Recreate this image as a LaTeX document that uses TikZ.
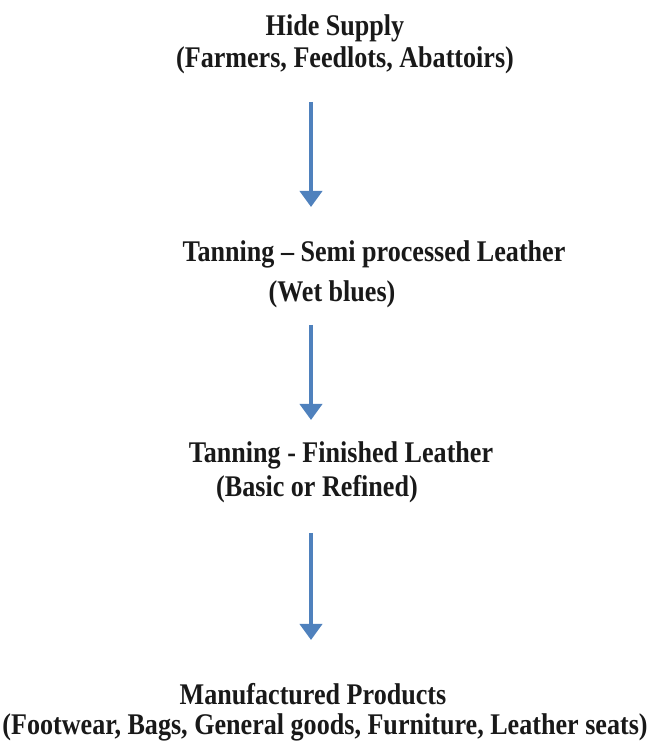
\documentclass[tikz,border=0pt]{standalone}
\usepackage{fontspec}
\setmainfont[FakeStretch=0.87]{Liberation Serif}
\usetikzlibrary{arrows.meta}
\definecolor{arrowblue}{RGB}{79,129,189}
\begin{document}
\begin{tikzpicture}[x=1pt,y=1pt,
  lbl/.style={anchor=base,inner sep=0pt,font=\fontsize{30}{32}\selectfont\bfseries,text=black!90},
  flow/.style={draw=arrowblue,line width=3.8pt,-{Triangle[width=22pt,length=16pt]}}]
\useasboundingbox (0,0) rectangle (651,742);
\node[lbl] (t1) at (335,706) {Hide Supply};
\node[lbl] (t1b) at (345,674) {(Farmers, Feedlots, Abattoirs)};
\node[lbl] (t2) at (374,480) {Tanning -- Semi processed Leather};
\node[lbl] (t2b) at (332,440) {(Wet blues)};
\node[lbl] (t3) at (341,279) {Tanning - Finished Leather};
\node[lbl] (t3b) at (317,245) {(Basic or Refined)};
\node[lbl] (t4) at (313,37) {Manufactured Products};
\node[lbl] (t4b) at (325,7) {(Footwear, Bags, General goods, Furniture, Leather seats)};
\coordinate (a1s) at (311,640);
\coordinate (a1e) at (311,535);
\coordinate (a2s) at (311,417);
\coordinate (a2e) at (311,322);
\coordinate (a3s) at (311,209);
\coordinate (a3e) at (311,102);
\draw[flow] (a1s) -- (a1e);
\draw[flow] (a2s) -- (a2e);
\draw[flow] (a3s) -- (a3e);
\end{tikzpicture}
\end{document}
